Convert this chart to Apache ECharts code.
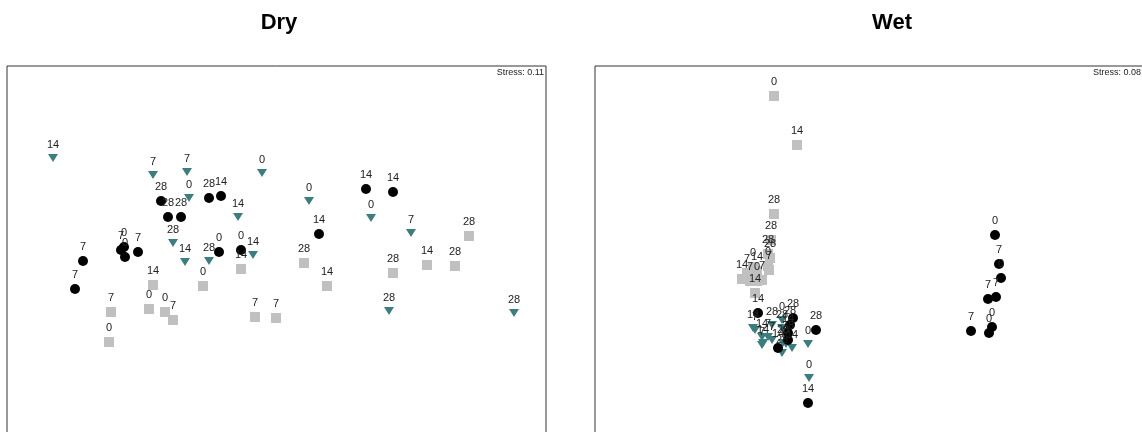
<!DOCTYPE html>
<html>
<head>
<meta charset="utf-8">
<title>NMDS ordination – Dry and Wet</title>
<script src="https://cdn.jsdelivr.net/npm/echarts@6/dist/echarts.min.js"></script>
<style>
  html, body { margin: 0; padding: 0; background: #fff; }
  #chart { width: 1142px; height: 432px; }
</style>
</head>
<body>
<div id="chart"></div>
<script>
// NMDS scores: [axis 1, axis 2, sampling day]
const panelTitles = ['Dry', 'Wet'];
const stressLabels = ['Stress: 0.11', 'Stress: 0.08'];

const dryCircle = [
  [-1.15, 0.55, 28], [-0.67, 0.58, 28], [-0.55, 0.60, 14], [-1.08, 0.39, 28],
  [-0.95, 0.39, 28], [-1.55, 0.06, 7], [-1.52, 0.09, 0], [-1.51, -0.01, 0],
  [-1.38, 0.04, 7], [-1.93, -0.05, 7], [-2.01, -0.33, 7], [-0.57, 0.04, 0],
  [-0.35, 0.06, 0], [0.90, 0.67, 14], [1.17, 0.64, 14], [0.43, 0.22, 14]
];
const dryTriangle = [
  [-2.23, 0.98, 14], [-1.23, 0.81, 7], [-0.89, 0.84, 7], [-0.14, 0.83, 0],
  [-0.87, 0.58, 0], [-0.38, 0.39, 14], [-1.03, 0.13, 28], [-0.91, -0.06, 14],
  [-0.67, -0.05, 28], [-0.23, 0.01, 14], [0.33, 0.55, 0], [0.95, 0.38, 0],
  [1.35, 0.23, 7], [1.13, -0.55, 28], [2.38, -0.57, 28]
];
const drySquare = [
  [-0.35, -0.13, 14], [-1.23, -0.29, 14], [-0.73, -0.30, 0], [-1.65, -0.56, 7],
  [-1.27, -0.53, 0], [-1.11, -0.56, 0], [-1.03, -0.64, 7], [-1.67, -0.86, 0],
  [-0.21, -0.61, 7], [0.00, -0.62, 7], [1.93, 0.20, 28], [0.28, -0.07, 28],
  [0.51, -0.30, 14], [1.17, -0.17, 28], [1.51, -0.09, 14], [1.79, -0.10, 28]
];

const wetCircle = [
  [-1.12, -0.57, 14], [-0.77, -0.62, 28], [-0.54, -0.74, 28], [-0.82, -0.77, 14],
  [-0.82, -0.84, 28], [-0.92, -0.92, 14], [-0.80, -0.69, 28], [-0.62, -1.47, 14],
  [1.25, 0.21, 0], [1.29, -0.08, 7], [1.31, -0.22, 0], [1.18, -0.43, 7],
  [1.26, -0.41, 7], [1.01, -0.75, 7], [1.22, -0.71, 0], [1.19, -0.77, 0]
];
const wetTriangle = [
  [-1.15, -0.74, 7], [-1.08, -0.81, 14], [-1.07, -0.87, 14], [-1.02, -0.81, 7],
  [-0.98, -0.69, 28], [-0.88, -0.64, 0], [-0.88, -0.72, 28], [-0.98, -0.84, 7],
  [-0.87, -0.87, 28], [-0.84, -0.88, 0], [-0.78, -0.92, 14], [-0.88, -0.97, 28],
  [-0.62, -0.88, 0], [-0.61, -1.22, 0], [-1.17, -0.72, 14], [-1.08, -0.89, 7]
];
const wetSquare = [
  [-0.96, 1.60, 0], [-0.73, 1.11, 14], [-0.96, 0.42, 28], [-0.99, 0.16, 28],
  [-1.02, 0.02, 28], [-1.00, -0.02, 28], [-1.02, -0.10, 0], [-1.17, -0.11, 0],
  [-1.13, -0.15, 14], [-1.28, -0.23, 14], [-1.20, -0.25, 7], [-1.08, -0.24, 7],
  [-1.01, -0.14, 7], [-1.13, -0.25, 0], [-1.15, -0.37, 14], [-1.23, -0.17, 7]
];

const axisRanges = [
  { xMin: -2.69, xMax: 2.70, yMin: -1.9, yMax: 1.9 },
  { xMin: -2.75, xMax: 2.74, yMin: -1.9, yMax: 1.9 }
];

const FONT = 'Liberation Sans, Arial, sans-serif';
const chart = echarts.init(document.getElementById('chart'), null, { renderer: 'canvas' });

function pointSeries(data, idx, style) {
  return Object.assign({
    type: 'scatter',
    xAxisIndex: idx,
    yAxisIndex: idx,
    data: data,
    label: {
      show: true,
      position: 'top',
      distance: 4,
      formatter: p => String(p.value[2]),
      fontFamily: FONT,
      fontSize: 11,
      color: '#222'
    },
    labelLayout: { hideOverlap: false },
    emphasis: { disabled: true },
    z: 3
  }, style);
}

const circleStyle = { symbol: 'circle', symbolSize: 10, itemStyle: { color: '#000', opacity: 1 } };
const squareStyle = { symbol: 'rect', symbolSize: 10, itemStyle: { color: '#c0c0c0', opacity: 1 } };
const triangleStyle = { symbol: 'triangle', symbolSize: [10, 8], symbolRotate: 180, itemStyle: { color: '#3b7e80', opacity: 1 } };

function axis(idx, min, max) {
  return {
    gridIndex: idx, type: 'value', min: min, max: max,
    axisLine: { show: false }, axisTick: { show: false },
    axisLabel: { show: false }, splitLine: { show: false }
  };
}

// Each plot frame runs past the lower (and, for Wet, the right) edge of the canvas
const frame = { show: true, borderColor: '#333', borderWidth: 1, backgroundColor: 'transparent',
                outerBoundsMode: 'none', containLabel: false };

chart.setOption({
  backgroundColor: '#fff',
  animation: false,
  title: [
    { text: panelTitles[0], left: 274, top: 7, textAlign: 'center',
      textStyle: { fontFamily: FONT, fontSize: 22, fontWeight: 'bold', color: '#000' } },
    { text: panelTitles[1], left: 887, top: 7, textAlign: 'center',
      textStyle: { fontFamily: FONT, fontSize: 22, fontWeight: 'bold', color: '#000' } },
    { text: stressLabels[0], right: 1142 - 544, top: 68, padding: 0,
      textStyle: { fontFamily: FONT, fontSize: 9, fontWeight: 'normal', color: '#222' } },
    { text: stressLabels[1], right: 1, top: 68, padding: 0,
      textStyle: { fontFamily: FONT, fontSize: 9, fontWeight: 'normal', color: '#222' } }
  ],
  grid: [
    Object.assign({ left: 7, top: 66, width: 539, height: 380 }, frame),
    Object.assign({ left: 595, top: 66, width: 549, height: 380 }, frame)
  ],
  xAxis: [
    axis(0, axisRanges[0].xMin, axisRanges[0].xMax),
    axis(1, axisRanges[1].xMin, axisRanges[1].xMax)
  ],
  yAxis: [
    axis(0, axisRanges[0].yMin, axisRanges[0].yMax),
    axis(1, axisRanges[1].yMin, axisRanges[1].yMax)
  ],
  series: [
    pointSeries(drySquare, 0, squareStyle),
    pointSeries(dryTriangle, 0, triangleStyle),
    pointSeries(dryCircle, 0, circleStyle),
    pointSeries(wetSquare, 1, squareStyle),
    pointSeries(wetTriangle, 1, triangleStyle),
    pointSeries(wetCircle, 1, circleStyle)
  ]
});
</script>
</body>
</html>
